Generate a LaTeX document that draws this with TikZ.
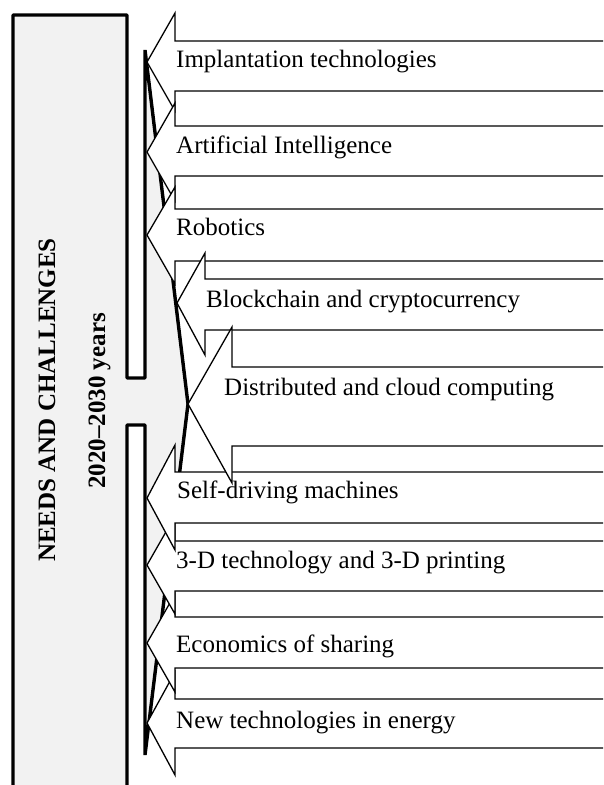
\documentclass[tikz,border=0pt]{standalone}
\usepackage{fontspec}
\setmainfont{Liberation Serif}
\tikzset{
  blockarrow/.style={draw=black, fill=white, line width=1.3pt, line join=miter},
  calloutbox/.style={draw=black, fill=gray!10, line width=3.4pt, line join=bevel},
  itemtext/.style={anchor=base west, inner sep=0pt, font=\fontsize{25}{30}\selectfont},
  headtext/.style={rotate=90, anchor=base, inner sep=0pt, font=\fontsize{25}{30}\selectfont\bfseries},
}
\begin{document}
\begin{tikzpicture}[x=1pt, y=-1pt]
  \useasboundingbox (0,0) rectangle (603,785);
  \clip (0,0) rectangle (603,785);
  % callout with the wide head
  \draw[calloutbox] (13,15) -- (127,15) -- (127,378) -- (145,378) -- (145,50) -- (188,404) -- (145,755) -- (145,425) -- (127,425) -- (127,800) -- (13,800) -- cycle;
  \node[headtext] (needs) at (55,400) {NEEDS AND CHALLENGES};
  \node[headtext] (years) at (105,401) {2020--2030 years};
  % arrows
  \draw[blockarrow] (610,41) -- (175,41) -- (175,13) -- (147,62) -- (175,111) -- (175,91) -- (610,91) -- cycle;
  \node[itemtext] (implant) at (176,67) {Implantation technologies};
  \draw[blockarrow] (610,126) -- (175,126) -- (175,103) -- (147,152) -- (175,201) -- (175,176) -- (610,176) -- cycle;
  \node[itemtext] (ai) at (176,153) {Artificial Intelligence};
  \draw[blockarrow] (610,209) -- (175,209) -- (175,187) -- (147,235) -- (175,284) -- (175,261) -- (610,261) -- cycle;
  \node[itemtext] (robot) at (176,235) {Robotics};
  \draw[blockarrow] (610,279) -- (205,279) -- (205,253) -- (177,303) -- (205,355) -- (205,330) -- (610,330) -- cycle;
  \node[itemtext] (chain) at (206,307) {Blockchain and cryptocurrency};
  \draw[blockarrow] (610,699) -- (175,699) -- (175,672) -- (147,723) -- (175,775) -- (175,748) -- (610,748) -- cycle;
  \node[itemtext] (energy) at (176,728) {New technologies in energy};
  \draw[blockarrow] (610,617) -- (175,617) -- (175,594) -- (147,643) -- (175,692) -- (175,668) -- (610,668) -- cycle;
  \node[itemtext] (share) at (176,652) {Economics of sharing};
  \draw[blockarrow] (610,541) -- (175,541) -- (175,516) -- (147,565) -- (175,614) -- (175,591) -- (610,591) -- cycle;
  \node[itemtext] (print) at (176,568) {3-D technology and 3-D printing};
  \draw[blockarrow] (610,472) -- (175,472) -- (175,445) -- (147,498) -- (175,550) -- (175,523) -- (610,523) -- cycle;
  \node[itemtext] (drive) at (177,498) {Self-driving machines};
  \draw[blockarrow] (610,367) -- (232,367) -- (232,327) -- (188,404) -- (232,483) -- (232,446) -- (610,446) -- cycle;
  \node[itemtext] (cloud) at (224,395) {Distributed and cloud computing};
\end{tikzpicture}
\end{document}
